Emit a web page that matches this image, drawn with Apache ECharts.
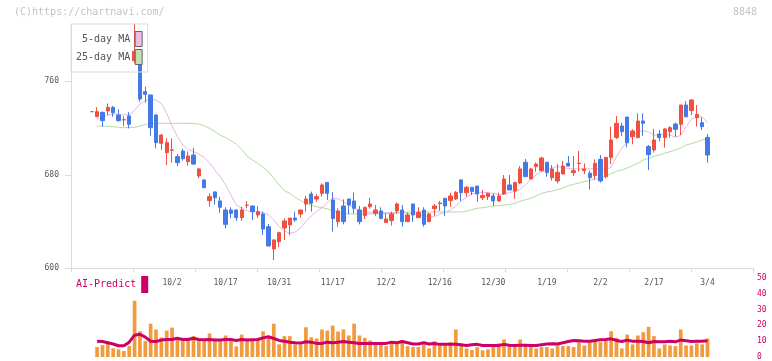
<!DOCTYPE html>
<html><head><meta charset="utf-8">
<script src="https://cdn.jsdelivr.net/npm/echarts@6/dist/echarts.min.js"></script>
<style>html,body{margin:0;padding:0;background:#fff}#c{width:772px;height:361px}</style>
</head><body><div id="c"></div>
<script>
const dates = ['9/4','9/5','9/8','9/9','9/10','9/11','9/12','9/16','9/17','9/18',
'9/19','9/22','9/24','9/25','9/26','9/29','9/30','10/1','10/2','10/3',
'10/6','10/7','10/8','10/9','10/10','10/14','10/15','10/16','10/17','10/20',
'10/21','10/22','10/23','10/24','10/27','10/28','10/29','10/30','10/31','11/4',
'11/5','11/6','11/7','11/10','11/11','11/12','11/13','11/14','11/17','11/18',
'11/19','11/20','11/21','11/25','11/26','11/27','11/28','12/1','12/2','12/3',
'12/4','12/5','12/8','12/9','12/10','12/11','12/12','12/15','12/16','12/17',
'12/18','12/19','12/22','12/23','12/24','12/25','12/26','12/29','12/30','1/5',
'1/6','1/7','1/8','1/9','1/13','1/14','1/15','1/16','1/19','1/20',
'1/21','1/22','1/23','1/26','1/27','1/28','1/29','1/30','2/2','2/3',
'2/4','2/5','2/6','2/9','2/10','2/12','2/13','2/16','2/17','2/18',
'2/19','2/20','2/24','2/25','2/26','2/27','3/2','3/3','3/4','3/5',
'3/6','3/9','3/10','3/11','3/12','3/13','3/16'];

const tickLabels = ['10/2','10/17','10/31','11/17','12/2','12/16','12/30','1/19','2/2','2/17','3/4'];
const priceTicks = [600, 680, 760];

const opens = [null,null,null,734,729.7,733.4,734.6,737.7,731.1,726.9,
730.3,777.6,781.0,751.1,748.3,731.2,706.9,699.0,701.0,695.5,
700.3,691.2,696.9,679.0,675.6,657.9,665.3,657.6,649.9,649.9,
649.9,643.3,653.7,653.3,645.6,646.5,635.6,616.5,622.8,634.5,
637.1,643.0,646.5,655.0,663.6,659.3,664.1,673.5,658.4,639.9,
653.3,659.3,657.6,649.9,645.1,652.7,647.0,649.1,639.1,640.8,
649.1,649.9,639.9,655.0,643.3,649.9,639.9,651.0,655.3,659.9,
657.9,659.3,675.6,664.7,669.3,670.4,660.4,661.3,661.9,657.6,
663.6,671.3,666.1,673.0,690.7,676.4,687.0,683.5,690.7,677.5,
674.7,680.7,689.8,681.8,689.6,683.5,681.3,679.3,693.2,678.4,
694.9,712.0,721.7,729.4,712.6,711.8,726.0,704.1,701.2,714.9,
711.8,716.9,723.4,723.2,739.7,734.9,728.9,724.6,712.0];

const closes = [null,null,null,734,734.0,726.3,737.7,733.1,726.3,727.2,
723.2,785.6,744.8,748.8,720.3,707.5,714.0,707.5,701.4,690.4,
693.8,696.1,689.2,685.0,669.0,661.3,660.4,652.2,637.6,647.0,
643.3,649.9,654.0,648.5,648.5,633.6,619.1,624.2,630.5,640.5,
643.0,641.3,649.9,659.3,655.6,661.3,671.3,664.1,642.5,649.1,
639.9,654.2,651.3,639.9,652.2,655.0,649.9,642.5,642.2,646.5,
655.0,639.9,645.6,645.6,647.9,637.6,646.5,653.3,655.9,653.3,
661.9,665.0,664.7,669.3,665.6,663.6,662.2,664.1,657.6,661.9,
676.4,667.0,673.3,685.0,678.4,685.0,689.2,694.4,681.8,685.0,
682.1,687.5,687.5,683.5,690.0,685.0,677.5,689.8,674.7,694.9,
709.8,724.0,716.9,707.5,717.5,726.0,724.0,697.2,709.8,711.8,
719.2,720.3,718.9,739.7,729.7,744.0,731.7,721.2,696.9];

const lows = [null,null,null,734,729.1,721.2,731.1,729.7,725.4,721.7,
719.7,775.3,742.6,741.7,713.5,702.6,701.2,688.4,690.4,687.5,
692.2,688.0,688.4,677.0,668.5,652.7,654.7,647.6,634.2,642.8,
640.5,640.5,651.3,641.3,643.3,628.5,619.0,607.1,618.0,624.2,
628.5,639.9,643.3,648.5,648.5,657.0,661.3,658.5,631.4,635.6,
637.6,646.2,647.0,637.6,642.2,651.0,644.8,642.5,639.1,636.5,
646.5,635.6,639.9,639.9,643.3,635.6,639.9,644.8,649.1,644.8,
652.7,658.4,657.6,661.3,662.7,657.0,658.4,658.4,653.3,657.0,
662.7,667.0,659.3,672.1,678.4,676.1,682.7,682.7,678.4,675.0,
672.7,680.7,687.0,679.0,682.7,680.7,667.6,675.6,673.3,677.0,
689.2,710.6,713.2,703.5,706.1,711.2,713.5,684.1,699.0,708.4,
703.2,711.8,712.6,714.0,729.1,731.2,721.2,718.3,690.4];

const highs = [null,null,null,734,737.7,734.0,741.1,738.8,736.0,730.3,
733.7,809,781.0,755.4,748.3,732.0,714.9,711.2,711.2,697.8,
702.2,700.0,703.0,686.0,676.0,664.1,665.8,661.3,652.2,652.2,
650.5,652.7,657.6,653.5,653.3,648.5,637.9,625.1,631.4,642.8,
643.0,648.5,650.0,661.9,665.6,663.6,672.7,673.5,665.0,651.3,
659.0,659.3,664.7,653.3,652.2,660.4,654.2,652.2,647.0,648.5,
656.2,654.2,647.6,655.0,652.2,652.2,647.6,655.0,657.6,659.9,
664.7,666.1,676.4,670.4,669.3,670.4,667.0,664.7,664.1,664.7,
679.8,679.8,674.1,687.5,693.5,686.1,690.4,695.5,690.7,688.4,
689.2,691.8,696.1,696.1,700.4,689.8,683.5,693.2,696.9,694.9,
721.2,730.3,724.6,729.4,718.9,732.6,732.6,705.5,719.2,718.3,
719.8,721.7,724.6,739.7,743.1,744.8,739.7,729.1,714.9];

const ma5 = [null,null,null,null,727.4,729.2,731.1,732.0,731.7,731.4,
731.1,734.9,740.6,743.4,744.5,744.0,741.1,732.6,721.7,712.6,
705.5,701.8,699.8,697.8,694.9,690.4,684.1,678.4,671.3,662.7,
654.2,651.3,649.3,648.2,648.2,647.9,645.6,641.3,635.6,631.9,
629.9,631.1,634.5,639.9,644.8,648.8,651.9,656.2,659.9,659.3,
657.0,654.2,651.3,649.3,648.5,647.9,647.6,647.6,647.6,647.6,
647.6,647.6,647.0,646.5,645.6,644.8,643.6,644.2,646.2,647.9,
649.9,653.3,657.6,660.7,663.6,664.7,665.0,664.7,664.1,663.0,
663.6,664.7,665.9,667.6,671.3,676.1,679.8,682.7,684.1,686.4,
687.0,686.1,685.5,685.0,685.0,685.0,685.0,685.5,684.7,684.1,
686.7,695.5,702.6,707.8,713.2,716.9,717.7,716.6,714.0,714.3,
714.6,714.0,712.0,713.8,721.2,727.4,729.7,729.7,724.6];

const ma25 = [null,null,null,null,721.7,721.7,721.4,721.2,720.6,720.3,
720.3,720.6,721.7,723.2,724.0,724.0,724.0,724.0,724.0,724.0,
724.0,724.0,724.0,723.4,722.0,719.7,716.9,714.0,711.8,709.2,
706.3,701.8,696.1,692.7,689.8,686.4,682.7,677.0,671.3,666.4,
664.1,660.7,657.9,655.6,653.9,652.7,651.9,651.0,649.3,647.9,
647.0,646.5,646.5,646.5,646.5,646.5,646.5,646.5,646.8,647.0,
647.3,647.9,648.2,648.2,648.2,648.2,648.2,648.2,648.2,648.2,
648.2,648.2,648.2,648.8,650.2,651.3,651.9,652.5,653.3,653.6,
654.2,654.4,655.6,657.3,658.7,659.9,661.9,664.1,665.3,666.1,
667.3,668.7,670.7,671.8,673.0,674.1,675.3,676.4,677.0,678.7,
681.0,683.0,684.1,685.8,687.8,689.8,692.7,694.1,695.8,696.9,
698.4,699.8,701.2,702.9,705.5,706.6,708.1,709.8,710.9];

const volumes = [null,null,null,null,6.3,7.5,8.6,5.5,4.8,3.8,
6.9,35.6,16.3,10.1,21.1,17.4,12.4,16.7,18.6,11.1,
10.7,12.1,13.2,11.5,11.5,14.9,11.5,11.1,13.6,11.5,
6.7,14.2,11.7,10.6,10.8,16.3,13.2,21.1,8.0,13.2,
13.2,8.0,8.0,18.8,12.5,11.7,17.4,16.7,19.9,16.1,
17.4,13.6,21.1,13.6,12.1,10.5,9.4,9.4,6.9,9.6,
10.0,10.5,6.9,6.3,6.3,8.0,5.4,10.0,8.6,7.3,
9.4,17.4,8.0,5.4,4.4,6.3,4.2,4.8,6.9,8.6,
11.1,7.3,6.9,11.1,6.9,6.9,5.4,6.3,6.3,5.4,
7.3,6.9,6.9,6.3,9.4,7.3,9.4,10.0,9.4,10.5,
16.3,12.1,5.4,14.2,8.0,13.6,15.7,19.1,13.2,5.4,
8.0,7.3,6.9,17.4,7.3,7.3,8.6,8.0,11.7];

const predict = [null,null,null,null,10.0,9.8,9.0,8.2,7.1,7.1,
9.4,13.8,14.4,12.6,10.0,9.8,10.7,11.1,11.1,11.9,
11.1,11.1,11.9,11.1,10.9,11.1,10.7,10.7,11.1,11.1,
10.5,11.1,10.7,10.9,11.1,12.1,12.8,11.7,10.5,10.0,
9.4,9.0,8.8,9.6,9.4,8.6,8.6,9.4,9.0,9.4,
9.8,9.4,9.0,8.6,8.6,8.6,8.6,8.6,8.6,9.4,
9.0,9.8,9.0,8.2,8.2,9.0,8.2,8.6,8.0,8.0,
8.0,8.0,7.8,7.3,7.8,8.0,7.3,7.3,7.3,7.3,
8.0,7.5,7.3,7.5,7.5,7.3,7.3,7.8,8.2,8.4,
8.2,9.0,9.8,10.5,10.3,10.0,10.0,10.5,10.9,11.1,
11.5,10.5,9.8,10.7,10.0,10.0,9.8,9.0,9.8,9.6,
9.6,10.0,9.6,10.7,10.3,9.8,10.0,10.0,10.3];

const FONT = 'DejaVu Sans Mono';
const UP = '#ef5040', DOWN = '#4479e8';
const AXIS = '#dcdcdc';

const candles = dates.map((d, i) => opens[i] == null ? '-' : [opens[i], closes[i], lows[i], highs[i]]);

const chart = echarts.init(document.getElementById('c'), null, {renderer: 'canvas'});
chart.setOption({
  animation: false,
  backgroundColor: '#fff',
  grid: [
    {left: 71, right: 19, top: 24, height: 244.3},
    {left: 73, right: 19, top: 24, height: 244.3},
    {left: 73, right: 19, top: 278, height: 79.7}
  ],
  xAxis: [
    {gridIndex: 0, type: 'value', min: 0, max: 11, interval: 1,
     axisLine: {show: true, lineStyle: {color: AXIS}},
     axisTick: {show: true, length: 4, lineStyle: {color: AXIS}},
     axisLabel: {show: false}, splitLine: {show: false}},
    {gridIndex: 1, type: 'category', data: dates, boundaryGap: true,
     axisLine: {show: false}, axisTick: {show: false},
     axisLabel: {interval: (i, v) => tickLabels.includes(v), color: '#555', fontFamily: FONT, fontSize: 8, margin: 11},
     splitLine: {show: false}},
    {gridIndex: 2, type: 'category', data: dates, boundaryGap: true, show: false}
  ],
  yAxis: [
    {gridIndex: 0, type: 'value', min: 600, max: 809,
     axisLine: {show: true, lineStyle: {color: AXIS}},
     axisTick: {show: true, length: 6, customValues: priceTicks, lineStyle: {color: AXIS}},
     axisLabel: {customValues: priceTicks, color: '#555', fontFamily: FONT, fontSize: 8, margin: 12},
     splitLine: {show: false}},
    {gridIndex: 1, type: 'value', min: 600, max: 809, show: false},
    {gridIndex: 2, type: 'value', min: 0, max: 50, interval: 10, position: 'right',
     axisLine: {show: false}, axisTick: {show: false},
     axisLabel: {color: '#cc0066', fontFamily: FONT, fontSize: 8, margin: 4},
     splitLine: {show: false}}
  ],
  legend: [
    {left: 71, top: 24, orient: 'vertical', align: 'right', padding: [7, 5, 7, 5],
     itemWidth: 7, itemHeight: 15, itemGap: 2, borderColor: AXIS, borderWidth: 1,
     selectedMode: false, formatter: n => n.padStart(9, ' '),
     textStyle: {fontFamily: FONT, fontSize: 10, color: '#555'},
     data: [
       {name: '5-day MA', icon: 'rect', itemStyle: {color: '#ecbcec', borderColor: '#666', borderWidth: 1}},
       {name: '25-day MA', icon: 'rect', itemStyle: {color: '#bfe0b0', borderColor: '#666', borderWidth: 1}}
     ]},
    {left: 71, top: 271, padding: 5, itemWidth: 7, itemHeight: 17, align: 'right',
     selectedMode: false,
     textStyle: {fontFamily: FONT, fontSize: 10, color: '#cc0066'},
     data: [{name: 'AI-Predict', icon: 'rect', itemStyle: {color: '#cc0066'}}]}
  ],
  graphic: [
    {type: 'text', left: 14, top: 7, style: {text: '(C)https://chartnavi.com/', font: '10px "DejaVu Sans Mono"', fill: '#c4c4c4'}},
    {type: 'text', right: 15, top: 7, style: {text: '8848', font: '10px "DejaVu Sans Mono"', fill: '#c4c4c4'}}
  ],
  series: [
    {name: '5-day MA', type: 'line', xAxisIndex: 1, yAxisIndex: 1, data: ma5, symbol: 'none',
     lineStyle: {color: '#e8b4e8', width: 1}, itemStyle: {color: '#ecbcec'}, z: 2, silent: true},
    {name: '25-day MA', type: 'line', xAxisIndex: 1, yAxisIndex: 1, data: ma25, symbol: 'none',
     lineStyle: {color: '#b3dba3', width: 1}, itemStyle: {color: '#bfe0b0'}, z: 2, silent: true},
    {name: 'price', type: 'candlestick', xAxisIndex: 1, yAxisIndex: 1, data: candles, barWidth: 3.8, z: 3,
     itemStyle: {color: UP, color0: DOWN, borderColor: UP, borderColor0: DOWN, borderColorDoji: UP, borderWidth: 1}},
    {name: 'volume', type: 'bar', xAxisIndex: 2, yAxisIndex: 2, data: volumes, barWidth: 3.7,
     itemStyle: {color: '#f29a3e'}},
    {name: 'AI-Predict', type: 'line', xAxisIndex: 2, yAxisIndex: 2, data: predict, symbol: 'none',
     lineStyle: {color: '#cc0066', width: 3}, itemStyle: {color: '#cc0066'}, z: 3}
  ]
});
</script>
</body></html>
